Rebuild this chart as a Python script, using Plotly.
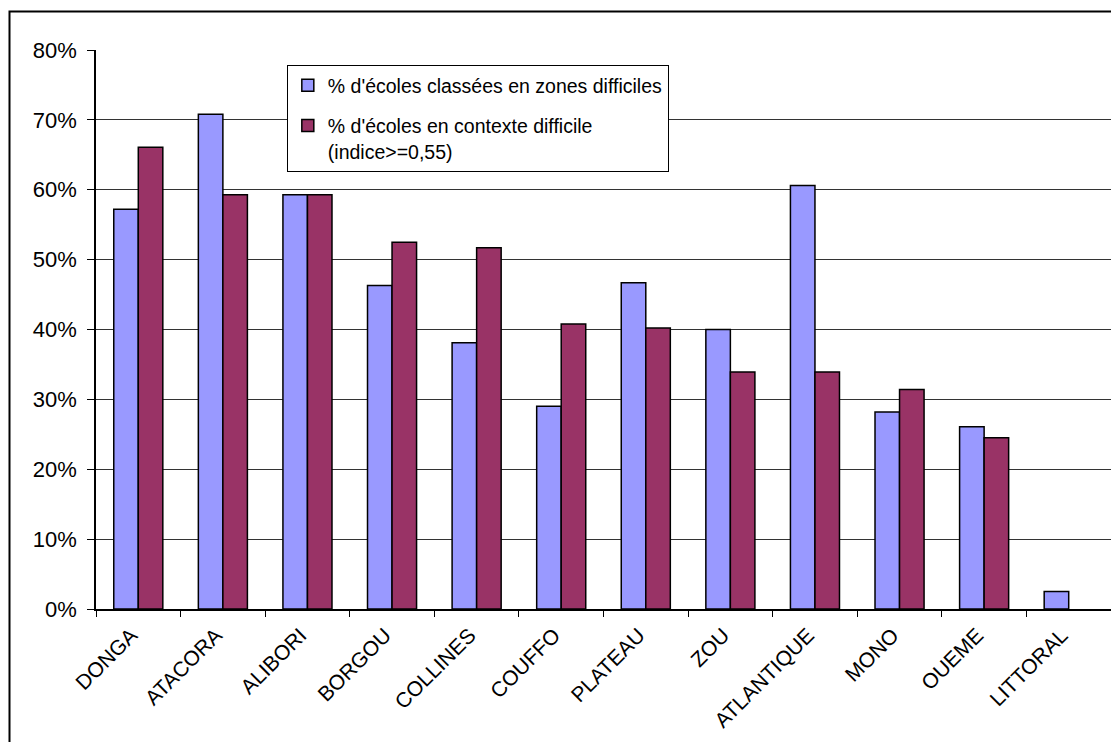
import plotly.graph_objects as go

categories = ["DONGA", "ATACORA", "ALIBORI", "BORGOU", "COLLINES", "COUFFO",
              "PLATEAU", "ZOU", "ATLANTIQUE", "MONO", "OUEME", "LITTORAL"]
zones_difficiles = [0.572, 0.708, 0.593, 0.463, 0.381, 0.290,
                    0.467, 0.400, 0.606, 0.282, 0.261, 0.025]
contexte_difficile = [0.661, 0.593, 0.593, 0.525, 0.517, 0.408,
                      0.402, 0.339, 0.339, 0.314, 0.245, None]

name1 = "% d'écoles classées en zones difficiles"
name2 = "% d'écoles en contexte difficile<br>(indice>=0,55)"

FONT = "Liberation Sans, Arial, sans-serif"

fig = go.Figure()
fig.add_trace(go.Bar(x=categories, y=zones_difficiles, name=name1, legendgroup="a",
                     marker=dict(color="#9999FF", line=dict(color="#000000", width=1.5))))
fig.add_trace(go.Bar(x=categories, y=contexte_difficile, name=name2, legendgroup="b",
                     marker=dict(color="#993366", line=dict(color="#000000", width=1.5))))

fig.update_layout(
    width=1111, height=742,
    margin=dict(l=96, r=0, t=50, b=133),
    paper_bgcolor="white", plot_bgcolor="white",
    font=dict(family=FONT, size=21, color="black"),
    barmode="group", bargap=0.42, bargroupgap=0,
    showlegend=True,
    legend=dict(
        x=0.188, y=0.973, xanchor="left", yanchor="top",
        bgcolor="white", bordercolor="black", borderwidth=1,
        font=dict(family=FONT, size=19.5, color="black"),
        traceorder="grouped", tracegroupgap=12, valign="top",
        itemwidth=30,
    ),
)

fig.update_xaxes(
    type="category", showline=True, linecolor="black", linewidth=1.5,
    ticks="outside", tickson="boundaries", ticklen=6, tickcolor="black",
    tickangle=-45, tickfont=dict(family=FONT, size=21), showgrid=False,
    range=[-0.5, 11.5], ticklabelshift=-7, ticklabelstandoff=4,
)
fig.update_yaxes(
    range=[0, 0.8], dtick=0.1, tickformat=".0%",
    showline=True, linecolor="black", linewidth=1.5,
    ticks="outside", ticklen=7, tickcolor="black",
    showgrid=True, gridcolor="#333333", gridwidth=1,
    tickfont=dict(family=FONT, size=22), zeroline=False,
    ticklabelstandoff=6,
)

# outer chart border (cut off at right/bottom in reference)
fig.add_shape(type="rect", xref="paper", yref="paper",
              x0=(9.5 - 96) / 1015, x1=1.02,
              y0=-0.4, y1=(609 - 11.5) / 559,
              line=dict(color="black", width=2), fillcolor="rgba(0,0,0,0)")

fig.write_html("out.html")
